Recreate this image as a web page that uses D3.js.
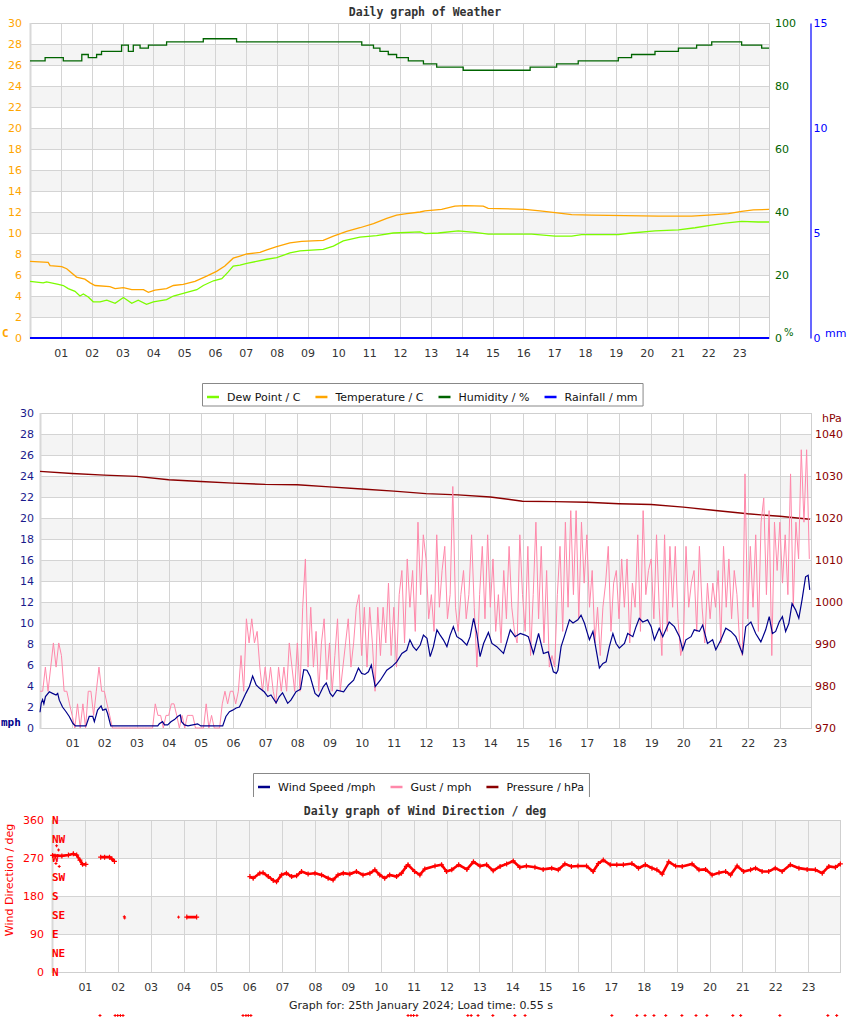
<!DOCTYPE html>
<html>
<head>
<meta charset="utf-8">
<script src="https://cdnjs.cloudflare.com/ajax/libs/d3/7.8.5/d3.min.js"></script>
<style>
  body { margin: 0; background: #fff; }
  svg { font-family: "DejaVu Sans", sans-serif; }
  .mono { font-family: "DejaVu Sans Mono", monospace; font-weight: bold; }
</style>
</head>
<body>
<svg id="chart" width="850" height="1017"></svg>
<script>
// ---- data ----
var hourTicks = [1,2,3,4,5,6,7,8,9,10,11,12,13,14,15,16,17,18,19,20,21,22,23];
var hourLabels = ["01","02","03","04","05","06","07","08","09","10","11","12","13","14","15","16","17","18","19","20","21","22","23"];

var tempTicks = [0,2,4,6,8,10,12,14,16,18,20,22,24,26,28,30];
var humTicks = [0,20,40,60,80,100];
var rainTicks = [0,5,10,15];
var pressTicks = [970,980,990,1000,1010,1020,1030,1040];
var dirTicks = [0,90,180,270,360];
var compassLabels = ["N","NE","E","SE","S","SW","W","NW","N"];
var compassDeg = [0,45,90,135,180,225,270,315,360];

var tempHours = [0,0.59,0.65,1.03,1.19,1.51,1.78,1.95,2.11,2.59,2.76,3.03,3.3,3.68,3.84,4.05,4.43,4.65,4.97,5.35,5.73,6.05,6.32,6.59,6.81,7.03,7.46,7.68,8.0,8.43,8.81,9.51,9.84,10.27,10.7,11.14,11.57,11.89,12.22,12.65,12.81,13.35,13.78,14.11,14.7,14.86,16.05,16.54,17.03,17.57,18.22,20.38,21.46,22.0,22.65,23.08,23.46,23.97];
var tempVals = [7.3,7.2,6.9,6.8,6.6,5.8,5.6,5.25,5.0,4.9,4.7,4.8,4.6,4.6,4.35,4.55,4.7,5.0,5.1,5.4,5.9,6.35,6.85,7.6,7.8,8.0,8.15,8.4,8.7,9.05,9.2,9.3,9.7,10.15,10.5,10.9,11.4,11.7,11.85,12.0,12.1,12.25,12.55,12.6,12.55,12.35,12.25,12.1,11.95,11.75,11.7,11.6,11.6,11.7,11.85,12.05,12.2,12.25];

var dewHours = [0,0.43,0.54,0.92,1.08,1.24,1.46,1.62,1.73,1.89,2.05,2.27,2.49,2.76,3.03,3.3,3.51,3.78,4.0,4.43,4.65,4.97,5.41,5.62,5.95,6.22,6.43,6.59,6.81,7.03,7.68,8.0,8.43,8.76,9.51,9.84,10.16,10.7,11.24,11.78,12.65,12.81,13.24,13.89,14.43,14.86,16.27,17.03,17.57,17.89,19.08,19.51,20.27,21.03,21.57,22.11,22.54,23.08,23.62,23.97];
var dewVals = [5.4,5.25,5.35,5.1,5.0,4.7,4.45,4.0,4.2,3.9,3.45,3.45,3.6,3.3,3.85,3.3,3.6,3.2,3.45,3.65,4.0,4.25,4.6,5.0,5.45,5.65,6.3,6.85,6.95,7.1,7.5,7.65,8.1,8.3,8.45,8.75,9.25,9.6,9.75,10.0,10.1,9.95,10.0,10.2,10.05,9.9,9.9,9.7,9.7,9.85,9.85,10.0,10.2,10.3,10.5,10.75,10.95,11.1,11.05,11.05];

var humHours = [0,0.49,1.08,1.68,1.89,2.16,2.32,2.65,2.97,3.19,3.35,3.57,3.84,4.43,5.62,6.70,10.76,11.14,11.35,11.62,11.89,12.27,12.76,13.19,14.05,16.22,17.08,17.78,19.08,19.51,20.27,21.03,21.62,22.11,23.08,23.73,23.97];
var humVals = [88,89,88,90,89,90,91,91,93,91,93,92,93,94,95,94,93,92,91,90,89,88,87,86,85,86,87,88,89,90,91,92,93,94,93,92,92];

var rainHours = [0,23.97];
var rainVals = [0,0];

var windHours = [0,0.04,0.08,0.12,0.17,0.29,0.39,0.5,0.55,0.6,0.7,0.81,0.91,1.02,1.1,1.43,1.53,1.64,1.69,1.79,1.9,1.95,2.05,2.1,2.2,3.66,3.71,3.81,3.87,3.97,4.07,4.18,4.28,4.36,4.4,4.49,4.6,4.9,5.0,5.68,5.78,5.89,5.99,6.1,6.2,6.3,6.4,6.51,6.61,6.72,6.82,6.97,7.08,7.18,7.34,7.44,7.54,7.7,7.8,7.96,8.1,8.2,8.3,8.4,8.55,8.66,8.81,8.9,9.02,9.1,9.23,9.44,9.59,9.75,9.9,10.0,10.1,10.21,10.3,10.42,10.58,10.78,10.94,11.09,11.25,11.4,11.5,11.6,11.7,11.82,11.92,12.03,12.13,12.23,12.34,12.44,12.54,12.65,12.75,12.85,12.96,13.11,13.27,13.37,13.48,13.58,13.68,13.79,13.94,14.05,14.2,14.41,14.62,14.77,14.93,15.08,15.18,15.34,15.5,15.65,15.8,15.96,16.05,16.1,16.2,16.3,16.46,16.57,16.72,16.82,16.93,17.0,17.08,17.19,17.29,17.39,17.5,17.6,17.7,17.81,17.91,18.01,18.17,18.27,18.43,18.53,18.63,18.74,18.89,19.0,19.1,19.25,19.36,19.56,19.72,19.88,19.98,20.08,20.24,20.34,20.5,20.6,20.75,20.91,21.01,21.17,21.32,21.48,21.63,21.79,21.84,21.94,22.1,22.25,22.41,22.56,22.67,22.77,22.87,22.98,23.08,23.18,23.28,23.38,23.49,23.59,23.69,23.8,23.88,23.93];
var windVals = [1.5,2.4,2.7,2.3,3.0,3.45,3.3,3.15,3.3,2.65,2.0,1.55,1.1,0.45,0.2,0.2,1.1,1.1,0.6,1.7,2.1,1.7,1.8,1.4,0.2,0.2,0.4,0.6,0.3,0.3,0.6,0.8,1.1,1.25,0.6,0.3,0.2,0.4,0.2,0.2,1.1,1.55,1.7,1.9,2.0,2.65,3.3,3.95,4.95,4.1,3.8,3.45,3.0,3.15,2.4,3.0,3.35,2.35,2.65,3.45,3.7,5.55,5.5,4.9,3.3,3.0,3.95,4.3,3.3,3.0,3.6,3.45,4.1,4.55,5.7,5.2,5.1,5.35,6.0,3.95,4.55,5.5,5.85,6.3,7.1,7.4,8.4,7.75,7.4,7.9,8.85,8.55,6.8,7.75,9.35,8.85,8.4,7.75,8.85,9.65,8.7,8.4,7.9,8.7,10.45,9.0,6.8,8.05,9.1,8.05,7.75,7.1,9.35,8.7,9.0,8.85,8.7,7.1,9.0,7.1,7.25,5.35,5.2,5.5,7.75,8.7,10.3,10.0,10.3,10.75,9.95,9.2,8.4,9.2,7.45,5.7,6.15,6.3,7.75,9.0,8.05,7.6,8.05,9.0,8.7,9.65,10.45,10.1,10.3,9.65,8.4,9.5,8.7,10.1,9.65,8.7,7.45,8.4,8.7,9.35,9.2,9.8,8.05,8.4,7.45,8.4,9.5,9.2,8.7,7.45,7.1,9.65,10.1,9.0,8.2,9.35,10.6,9.0,9.2,10.1,10.6,9.2,9.95,11.85,11.25,10.45,12.2,14.4,14.55,13.15];

// gust, one value every 5 minutes from 00:00 (mph)
var gustStepMin = 5;
var gustVals = [
  3.5,3.5,5.8,3.5,5.8,8.1,5.8,8.1,6.9,3.5,3.5,2.3,
  1.2,0,2.3,0,2.3,0,3.5,3.5,1.2,3.5,5.8,3.5,
  3.5,2.3,1.2,0,0,0,0,0,0,0,0,0,
  0,0,0,0,0,0,0,2.3,1.2,1.2,0,1.2,
  1.2,2.3,2.3,1.2,0,1.2,0,1.2,1.2,1.2,0,0,
  0,0,2.3,0,1.2,0,0,0,2.3,3.5,2.3,3.5,
  3.5,2.3,3.5,6.9,3.5,10.4,8.1,10.4,8.1,9.2,5.8,3.5,
  5.8,3.5,5.8,3.5,2.3,5.8,3.5,5.8,3.5,8.1,5.8,3.5,
  8.1,3.5,11.5,16.1,5.8,11.5,5.8,9.2,3.5,8.1,10.4,4.6,
  8.1,3.5,6.9,10.4,3.5,5.8,8.1,10.4,5.8,8.1,11.5,12.7,
  6.9,11.5,5.8,11.5,8.1,3.5,11.5,6.9,11.5,8.1,13.8,6.9,
  11.5,5.8,12.7,15.0,8.1,16.1,11.5,15.0,9.2,19.6,12.7,18.4,
  16.1,10.4,12.7,9.2,18.4,11.5,15.0,17.3,10.4,12.7,23.0,11.5,
  9.2,12.7,15.0,10.4,12.7,18.4,11.5,5.8,12.7,17.3,10.4,18.4,
  11.5,16.1,9.2,12.7,8.1,15.0,10.4,17.3,11.5,9.2,8.1,18.4,
  12.7,9.2,17.3,6.9,12.7,19.6,10.4,17.3,8.1,15.0,5.8,6.9,
  5.8,12.7,17.3,9.2,19.6,11.5,20.7,12.7,20.7,10.4,19.6,13.8,
  18.4,11.5,15.0,8.1,11.5,6.9,11.5,13.8,17.3,9.2,13.8,15.0,
  10.4,16.1,11.5,16.1,8.1,13.8,11.5,18.4,9.2,20.7,12.7,15.0,
  16.1,10.4,18.4,11.5,6.9,18.4,9.2,17.3,11.5,17.3,10.4,6.9,
  8.1,17.3,11.5,13.8,15.0,9.2,17.3,11.5,8.1,13.8,10.4,13.8,
  11.5,15.0,8.1,17.3,11.5,16.1,10.4,15.0,12.7,8.1,6.9,24.2,
  10.4,17.3,11.5,18.4,9.2,19.6,21.9,12.7,20.7,6.9,19.6,15.0,
  19.6,13.8,18.4,12.7,24.2,11.5,19.6,16.1,26.5,19.6,26.5,16.1
];

var pressHours = [0,1,2,3,4,5,6,7,8,9,10,11,12,13,14,15,16,17,18,19,20,21,22,23,23.93];
var pressVals = [1031.1,1030.6,1030.2,1029.9,1029.1,1028.7,1028.3,1028.0,1027.9,1027.4,1026.9,1026.4,1025.8,1025.5,1025.0,1024.0,1023.9,1023.75,1023.4,1023.2,1022.6,1021.8,1021.0,1020.4,1019.7];

// wind direction, null = no reading (calm)
var dirHours = [0.02,0.3,0.5,0.65,0.75,0.85,0.93,1.03,1.2,1.48,1.6,1.75,1.82,1.9,2.0,4.1,4.4,5.0,6.02,6.12,6.32,6.42,6.58,6.73,6.83,6.98,7.13,7.29,7.44,7.59,7.79,8.0,8.2,8.4,8.55,8.7,8.86,9.06,9.26,9.46,9.67,9.82,9.97,10.12,10.27,10.48,10.63,10.78,10.83,11.03,11.19,11.34,11.65,11.85,12.0,12.16,12.37,12.62,12.82,13.02,13.22,13.42,13.63,13.83,14.03,14.23,14.43,14.69,14.94,15.2,15.4,15.6,15.8,16.0,16.26,16.46,16.62,16.77,16.98,17.18,17.38,17.64,17.84,18.05,18.25,18.4,18.56,18.76,18.97,19.17,19.47,19.68,19.88,20.08,20.29,20.49,20.64,20.84,21.04,21.25,21.4,21.6,21.8,22.0,22.21,22.46,22.72,22.97,23.22,23.43,23.63,23.83,23.98];
var dirVals = [276,275,277,280,277,265,255,255,null,272,272,272,268,262,null,130,130,null,226,222,234,235,226,217,214,230,234,226,228,238,232,234,230,222,218,230,234,232,238,230,234,242,230,222,230,226,234,250,254,238,230,244,251,254,238,242,254,243,261,251,254,240,250,256,263,248,251,248,243,246,242,256,250,251,251,238,257,265,254,254,254,257,246,254,246,242,232,261,251,250,256,242,243,230,235,238,230,251,238,242,246,238,238,246,238,254,246,243,242,234,250,248,256];
var dirDotHours = [0.09,0.12,0.14,0.2,0.22,2.2,2.21,3.85];
var dirDotVals = [277,257,299,289,250,131,128,130];
// marks of the next graph peeking in at the bottom edge
var nextGraphHours = [1.46,1.92,2.0,2.08,2.16,5.81,5.9,5.97,6.05,10.83,10.92,11.0,11.1,12.65,12.75,12.96,13.41,14.08,14.39,17.03,17.79,18.04,18.31,18.67,19.16,19.59,19.92,20.71,20.95,22.14,23.6,23.87];

// ---- drawing ----
var svg = d3.select("#chart");
var GRID = "#d4d4d4", BAND = "#f4f4f4", LBL = "#333";

function panel(x, y, ticks, shaded) {
  var g = svg.append("g");
  var x0 = x.range()[0], x1 = x.range()[1], yb = y.range()[0], yt = y.range()[1];
  var step = ticks[1] - ticks[0];
  g.selectAll("rect.band").data(ticks.filter(shaded)).join("rect")
    .attr("x", x0).attr("width", x1 - x0)
    .attr("y", function(d){ return y(d + step); })
    .attr("height", function(d){ return y(d) - y(d + step); })
    .attr("fill", BAND);
  g.selectAll("line.h").data(ticks).join("line")
    .attr("x1", x0).attr("x2", x1)
    .attr("y1", function(d){ return Math.round(y(d)) + 0.5; })
    .attr("y2", function(d){ return Math.round(y(d)) + 0.5; })
    .attr("stroke", GRID);
  g.selectAll("line.v").data(hourTicks).join("line")
    .attr("x1", function(d){ return Math.round(x(d)) + 0.5; })
    .attr("x2", function(d){ return Math.round(x(d)) + 0.5; })
    .attr("y1", yt).attr("y2", yb)
    .attr("stroke", GRID);
  g.append("rect").attr("x", x0 + 0.5).attr("y", yt + 0.5)
    .attr("width", x1 - x0 - 1).attr("height", yb - yt)
    .attr("fill", "none").attr("stroke", "#cfcfcf");
  g.append("line").attr("x1", x0 + 0.5).attr("x2", x0 + 0.5).attr("y1", yt).attr("y2", yb + 1)
    .attr("stroke", "#d8d8d8").attr("stroke-width", 2);
  return g;
}

function styleAxis(g, color) {
  g.attr("font-family", "DejaVu Sans, sans-serif").attr("font-size", 11);
  g.select(".domain").remove();
  g.selectAll("text").attr("fill", color);
}

function xAxis(x, y) {
  var g = svg.append("g").attr("transform", "translate(0," + y.range()[0] + ")")
    .call(d3.axisBottom(x).tickValues(hourTicks)
      .tickFormat(function(d, i){ return hourLabels[i]; })
      .tickSize(0).tickPadding(11));
  styleAxis(g, LBL);
}

function series(xs, vals, x, y, color, width, curve) {
  var pts = xs.map(function(h, i){ return [h, vals[i]]; });
  svg.append("path").datum(pts)
    .attr("fill", "none").attr("stroke", color).attr("stroke-width", width || 1)
    .attr("d", d3.line()
      .defined(function(d){ return d[1] !== null; })
      .x(function(d){ return x(d[0]); })
      .y(function(d){ return y(d[1]); })
      .curve(curve || d3.curveLinear));
}

function legend(items, left, top, height, openBottom) {
  var g = svg.append("g");
  var box = g.append("path");
  var cur = left + 5;
  items.forEach(function(it){
    g.append("line").attr("x1", cur).attr("x2", cur + 12)
      .attr("y1", top + 14).attr("y2", top + 14)
      .attr("stroke", it.color).attr("stroke-width", 2.5);
    var t = g.append("text").attr("x", cur + 20).attr("y", top + 17.5)
      .attr("font-size", 11).attr("fill", "#111").text(it.name);
    cur = cur + 20 + t.node().getComputedTextLength() + 15;
  });
  var right = cur - 10;
  var d = openBottom
    ? "M" + (left + 0.5) + "," + (top + height) + "V" + (top + 0.5) + "H" + (right + 0.5) + "V" + (top + height)
    : "M" + (left + 0.5) + "," + (top + 0.5) + "H" + (right + 0.5) + "V" + (top + height + 0.5) + "H" + (left + 0.5) + "Z";
  box.attr("d", d).attr("fill", "#fff").attr("stroke", "#888");
  if (openBottom) g.insert("rect", "path").attr("x", left).attr("y", top).attr("width", right - left).attr("height", height).attr("fill", "#fff");
}

// ===== graph 1: weather =====
var xT = d3.scaleLinear().domain([0, 24]).range([30, 770]);
var yT = d3.scaleLinear().domain([0, 30]).range([338, 23]);
var yH = d3.scaleLinear().domain([0, 100]).range([338, 23]);
var yR = d3.scaleLinear().domain([0, 15]).range([338, 23]);

svg.append("text").attr("class", "mono").attr("x", 425).attr("y", 15.5)
  .attr("text-anchor", "middle").attr("font-size", 11.5).attr("fill", "#333")
  .text("Daily graph of Weather");

panel(xT, yT, tempTicks.slice(0, -1), function(d){ return (d / 2) % 2 === 1; });

series(humHours, humVals, xT, yH, "#006400", 1.3, d3.curveStepAfter);
series(tempHours, tempVals, xT, yT, "#ffa500", 1.3);
series(dewHours, dewVals, xT, yT, "#7cfc00", 1.3);
series(rainHours, rainVals, xT, yR, "#0000ff", 2);

styleAxis(svg.append("g").attr("transform", "translate(30,0)")
  .call(d3.axisLeft(yT).tickValues(tempTicks).tickFormat(d3.format("d")).tickSize(0).tickPadding(8)), "#ffa500");
styleAxis(svg.append("g").attr("transform", "translate(770,0)")
  .call(d3.axisRight(yH).tickValues(humTicks).tickFormat(d3.format("d")).tickSize(0).tickPadding(5)), "#006400");
var rainAx = svg.append("g").attr("transform", "translate(810.5,0)")
  .call(d3.axisRight(yR).tickValues(rainTicks).tickFormat(d3.format("d")).tickSize(0).tickPadding(3));
rainAx.attr("font-family", "DejaVu Sans, sans-serif").attr("font-size", 11);
rainAx.select(".domain").attr("stroke", "#0000ff").attr("stroke-width", 1.2);
rainAx.selectAll("text").attr("fill", "#0000ff");
xAxis(xT, yT);

svg.append("text").attr("class", "mono").attr("x", 2).attr("y", 337).attr("font-size", 11).attr("fill", "#ffa500").text("C");
svg.append("text").attr("x", 784).attr("y", 336).attr("font-size", 10).attr("fill", "#006400").text("%");
svg.append("text").attr("x", 825).attr("y", 337).attr("font-size", 11).attr("fill", "#0000ff").text("mm");

// ===== graph 2: wind speed and pressure =====
var xM = d3.scaleLinear().domain([0, 24]).range([40, 812]);
var yM = d3.scaleLinear().domain([0, 30]).range([728, 413]);
var yP = d3.scaleLinear().domain([970, 1045]).range([728, 413]);

legend([
  {name: "Dew Point / C", color: "#7cfc00"},
  {name: "Temperature / C", color: "#ffa500"},
  {name: "Humidity / %", color: "#006400"},
  {name: "Rainfall / mm", color: "#0000ff"}
], 202, 383, 22.5, false);

panel(xM, yM, tempTicks.slice(0, -1), function(d){ return (d / 2) % 2 === 1; });

series(pressHours, pressVals, xM, yP, "#8b0000", 1.4);
series(gustVals.map(function(d, i){ return i * gustStepMin / 60; }), gustVals, xM, yM, "#ff88aa", 1);
series(windHours, windVals, xM, yM, "#00008b", 1.2);

styleAxis(svg.append("g").attr("transform", "translate(40,0)")
  .call(d3.axisLeft(yM).tickValues(tempTicks).tickFormat(d3.format("d")).tickSize(0).tickPadding(6)), "#1a1a8c");
styleAxis(svg.append("g").attr("transform", "translate(812,0)")
  .call(d3.axisRight(yP).tickValues(pressTicks).tickFormat(d3.format("d")).tickSize(0).tickPadding(3)), "#8b0000");
xAxis(xM, yM);

svg.append("text").attr("class", "mono").attr("x", 1).attr("y", 726).attr("font-size", 11).attr("fill", "#00008b").text("mph");
svg.append("text").attr("x", 822).attr("y", 422).attr("font-size", 11).attr("fill", "#8b0000").text("hPa");

// ===== graph 3: wind direction =====
var xB = d3.scaleLinear().domain([0, 24]).range([52, 841]);
var yB = d3.scaleLinear().domain([0, 360]).range([972, 820]);

legend([
  {name: "Wind Speed /mph", color: "#00008b"},
  {name: "Gust / mph", color: "#ff88aa"},
  {name: "Pressure / hPa", color: "#8b0000"}
], 253, 773, 24, true);

svg.append("text").attr("class", "mono").attr("x", 425).attr("y", 815)
  .attr("text-anchor", "middle").attr("font-size", 11.5).attr("fill", "#333")
  .text("Daily graph of Wind Direction / deg");

panel(xB, yB, dirTicks.slice(0, -1), function(d){ return d === 90 || d === 270; });

var plus = "M-2.5,0H2.5M0,-2.5V2.5";
series(dirHours, dirVals, xB, yB, "#ff0000", 2.6);
svg.append("g").selectAll("path").data(dirHours.map(function(h, i){ return [h, dirVals[i]]; }).filter(function(d){ return d[1] !== null; }))
  .join("path")
  .attr("transform", function(d){ return "translate(" + xB(d[0]) + "," + yB(d[1]) + ")"; })
  .attr("d", plus).attr("stroke", "#ff0000").attr("stroke-width", 1.2);
svg.append("g").selectAll("path").data(dirDotHours.map(function(h, i){ return [h, dirDotVals[i]]; }))
  .join("path")
  .attr("transform", function(d){ return "translate(" + xB(d[0]) + "," + yB(d[1]) + ")"; })
  .attr("d", "M-1.5,0H1.5M0,-1.5V1.5").attr("stroke", "#ff0000").attr("stroke-width", 1);

styleAxis(svg.append("g").attr("transform", "translate(52,0)")
  .call(d3.axisLeft(yB).tickValues(dirTicks).tickSize(0).tickPadding(8)), "#ff0000");
xAxis(xB, yB);

svg.append("g").selectAll("text").data(compassDeg).join("text")
  .attr("class", "mono").attr("x", 52).attr("y", function(d){ return yB(d) + 4; })
  .attr("font-size", 11).attr("fill", "#ff0000")
  .text(function(d, i){ return compassLabels[i]; });

svg.append("text").attr("transform", "translate(13,880) rotate(-90)")
  .attr("text-anchor", "middle").attr("font-size", 11).attr("fill", "#ff0000")
  .text("Wind Direction / deg");

svg.append("text").attr("x", 421).attr("y", 1009).attr("text-anchor", "middle")
  .attr("font-size", 11).attr("fill", "#222")
  .text("Graph for: 25th January 2024; Load time: 0.55 s");

svg.append("g").selectAll("path").data(nextGraphHours).join("path")
  .attr("transform", function(d){ return "translate(" + xB(d) + ",1015.5)"; })
  .attr("d", "M-1.5,0H1.5M0,-1.5V1.5").attr("stroke", "#ff0000").attr("stroke-width", 1);
</script>
</body>
</html>
